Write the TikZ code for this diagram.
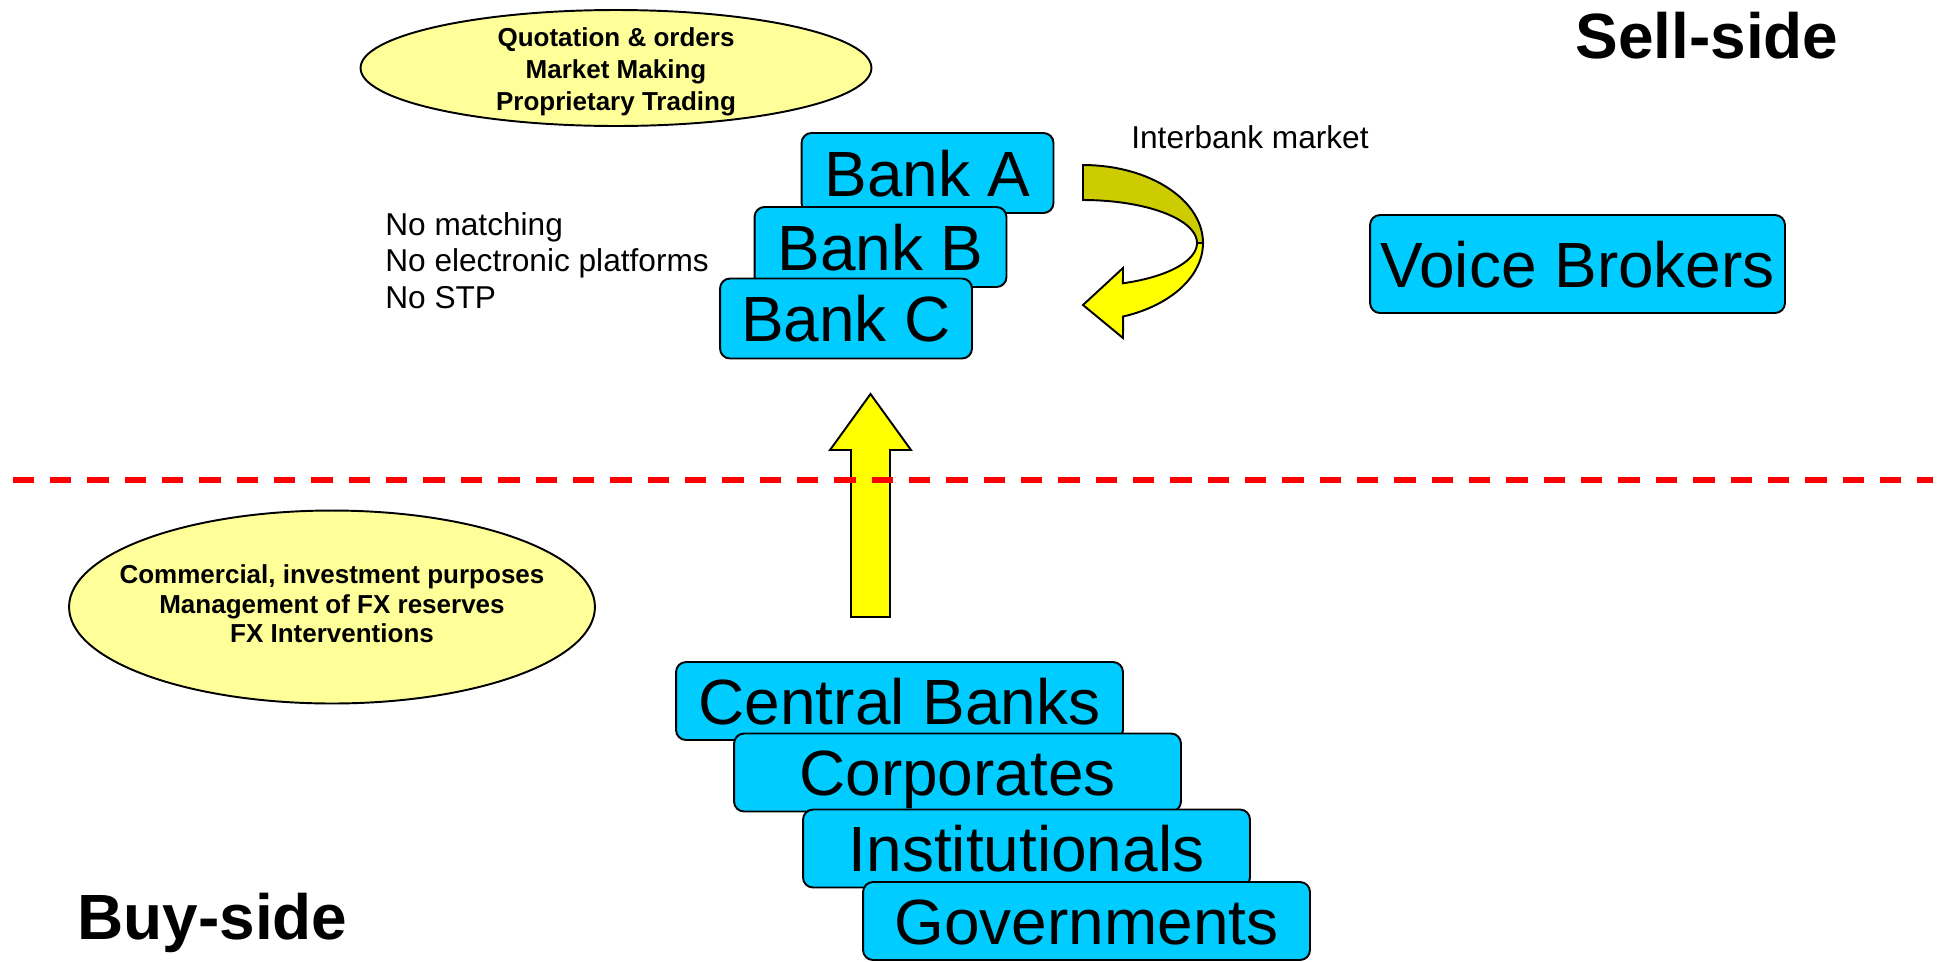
\documentclass[tikz,border=0pt]{standalone}
\usepackage{fontspec}
\setmainfont{Liberation Sans}
\usetikzlibrary{shapes.geometric}

\definecolor{boxblue}{HTML}{00CCFF}
\definecolor{notefill}{HTML}{FFFF99}
\definecolor{arrowyellow}{HTML}{FFFF00}
\definecolor{arrowdark}{HTML}{CCCC00}

\begin{document}
\begin{tikzpicture}[x=0.02cm, y=-0.02cm,
    party/.style={draw, line width=1.1pt, fill=boxblue, rounded corners=0.2cm,
        inner sep=0pt, text height=0.92cm, text depth=0pt,
        font=\fontsize{36.4}{43}\selectfont},
    bank/.style={party, minimum width=5.04cm, minimum height=1.6cm},
    client/.style={party, minimum width=8.94cm, minimum height=1.56cm},
    note/.style={ellipse, draw, line width=1.1pt, fill=notefill, inner sep=0pt},
    notetext/.style={inner sep=0pt, align=center,
        font=\bfseries\fontsize{14.8}{16.8}\selectfont},
    side/.style={font=\bfseries\fontsize{36.4}{43}\selectfont, inner sep=0pt},
    remark/.style={font=\fontsize{18}{20.8}\selectfont, inner sep=0pt, align=left},
    block/.style={draw, line width=1.1pt, line join=miter},
    border/.style={red, line width=3pt, dash pattern=on 0.427cm off 0.32cm}]
\useasboundingbox (0,0) rectangle (1939,961);

% what each side does
\node[note, minimum width=10.22cm, minimum height=2.32cm] (dealing) at (616,68) {};
\node[notetext, font=\bfseries\fontsize{14.8}{18.2}\selectfont] (dealingtext) at (616,72)
    {Quotation \& orders\\Market Making\\Proprietary Trading};
\node[note, minimum width=10.52cm, minimum height=3.86cm] (purposes) at (332,607) {};
\node[notetext] (purposestext) at (332,604)
    {Commercial, investment purposes\\Management of FX reserves\\FX Interventions};

% sell-side
\node[bank] (bankA) at (927.5,173) {Bank A};
\node[bank] (bankB) at (880.5,247) {Bank B};
\node[bank] (bankC) at (846,318.5) {Bank C};
\node[party, minimum width=8.3cm, minimum height=1.96cm] (voice) at (1577.5,264) {Voice Brokers};

% buy-side
\node[client] (central) at (899.5,701) {Central Banks};
\node[client] (corporates) at (957.5,772.5) {Corporates};
\node[client] (institutionals) at (1026.5,848.5) {Institutionals};
\node[client] (governments) at (1086.5,921) {Governments};

\node[side, anchor=base west] (sell) at (1575,58) {Sell-side};
\node[side, anchor=base west] (buy) at (77,939) {Buy-side};
\node[remark, anchor=north west] (limits) at (385,212)
    {No matching\\No electronic platforms\\No STP};
\node[remark, anchor=base west] (interbank) at (1131,148) {Interbank market};

% interbank loop, back of the band first
\filldraw[block, fill=arrowdark]
    plot[domain=-90:0, samples=30, variable=\t] ({1083+120*cos(\t)},{243+78*sin(\t)})
    -- plot[domain=0:-90, samples=30, variable=\t] ({1083+114*cos(\t)},{243+43*sin(\t)})
    -- cycle;
\filldraw[block, fill=arrowyellow]
    plot[domain=0:69.5, samples=30, variable=\t] ({1083+114*cos(\t)},{243+43*sin(\t)})
    -- (1123,268) -- (1083,305) -- (1123,338)
    -- plot[domain=70.5:0, samples=30, variable=\t] ({1083+120*cos(\t)},{243+78*sin(\t)})
    -- cycle;

% clients up to the banks
\filldraw[block, fill=arrowyellow] (851,617) -- (851,450) -- (830,450) -- (870.5,394)
    -- (911,450) -- (890,450) -- (890,617) -- cycle;

\draw[border] (12.7,480) -- (1933,480);
\end{tikzpicture}
\end{document}
